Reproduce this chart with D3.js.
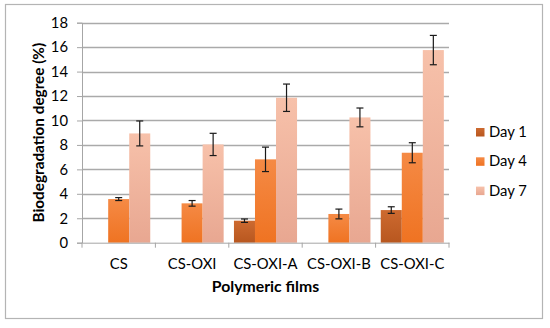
<!DOCTYPE html>
<html>
<head>
<meta charset="utf-8">
<script src="https://cdn.jsdelivr.net/npm/d3@7"></script>
<style>
  body { margin: 0; background: #fff; }
  svg { display: block; font-family: Lato, "Open Sans", sans-serif; }
</style>
</head>
<body>
<div id="chart"></div>
<script>
const films = ["CS", "CS-OXI", "CS-OXI-A", "CS-OXI-B", "CS-OXI-C"];
const days = ["Day 1", "Day 4", "Day 7"];
// null = no bar for that film/day
const day1 = [null, null, 1.8, null, 2.67];
const day4 = [3.57, 3.22, 6.82, 2.35, 7.36];
const day7 = [8.94, 8.04, 11.86, 10.25, 15.76];
const err1 = [null, null, 0.14, null, 0.27];
const err4 = [0.12, 0.23, 1.0, 0.4, 0.82];
const err7 = [1.02, 0.91, 1.12, 0.77, 1.2];
const yTicks = [0, 2, 4, 6, 8, 10, 12, 14, 16, 18];

const width = 550, height = 328;
const margin = { left: 82, right: 101, top: 22.7, bottom: 85.3 };

const svg = d3.select("#chart").append("svg")
    .attr("width", width)
    .attr("height", height);

const colors = [
    ["#cd6a30", "#b8571f"],
    ["#f58a45", "#ef7322"],
    ["#f7c1aa", "#e8a791"]
];
const defs = svg.append("defs");
colors.forEach((c, i) => {
    const g = defs.append("linearGradient")
        .attr("id", "grad" + i)
        .attr("x1", 0).attr("y1", 0).attr("x2", 0).attr("y2", 1);
    g.append("stop").attr("offset", "0%").attr("stop-color", c[0]);
    g.append("stop").attr("offset", "100%").attr("stop-color", c[1]);
});

// outer frame
svg.append("rect")
    .attr("x", 5.5).attr("y", 4.5)
    .attr("width", 537).attr("height", 314)
    .attr("fill", "#fff")
    .attr("stroke", "#b4b4b4")
    .attr("stroke-width", 1.2);

const x = d3.scaleBand()
    .domain(films)
    .range([margin.left, width - margin.right])
    .paddingInner(0)
    .paddingOuter(0);

const x1 = d3.scaleBand()
    .domain(days)
    .range([0, x.bandwidth()])
    .paddingInner(0)
    .paddingOuter(0.245);

const y = d3.scaleLinear()
    .domain([0, 18])
    .range([height - margin.bottom, margin.top]);

// grid
svg.append("g")
    .selectAll("line")
    .data(yTicks.slice(1))
    .join("line")
    .attr("x1", margin.left)
    .attr("x2", width - margin.right)
    .attr("y1", d => Math.round(y(d)) + 0.5)
    .attr("y2", d => Math.round(y(d)) + 0.5)
    .attr("stroke", "#aaaaaa")
    .attr("stroke-width", 1.3);

// y axis
const yAxis = svg.append("g")
    .attr("transform", `translate(${margin.left},0)`)
    .call(d3.axisLeft(y).tickValues(yTicks).tickSize(5).tickPadding(9));
yAxis.select(".domain").attr("stroke", "#a6a6a6");
yAxis.selectAll(".tick line").attr("stroke", "#a6a6a6");
yAxis.selectAll("text")
    .attr("font-size", 14.8)
    .attr("font-family", "Lato, sans-serif")
    .attr("fill", "#000");

// bars
const rows = [day1, day4, day7];
const errs = [err1, err4, err7];
const barData = [];
films.forEach((f, i) => {
    days.forEach((d, j) => {
        if (rows[j][i] != null) {
            barData.push({ film: f, day: d, k: j, value: rows[j][i], err: errs[j][i] });
        }
    });
});

svg.append("g")
    .selectAll("rect")
    .data(barData)
    .join("rect")
    .attr("x", d => x(d.film) + x1(d.day))
    .attr("y", d => y(d.value))
    .attr("width", x1.bandwidth())
    .attr("height", d => y(0) - y(d.value))
    .attr("fill", d => `url(#grad${d.k})`);

// error bars
const eb = svg.append("g")
    .attr("stroke", "#1a1a1a")
    .attr("stroke-width", 1.2);
barData.forEach(d => {
    const cx = x(d.film) + x1(d.day) + x1.bandwidth() / 2;
    const top = y(d.value + d.err), bot = y(d.value - d.err);
    eb.append("line").attr("x1", cx).attr("x2", cx).attr("y1", top).attr("y2", bot);
    eb.append("line").attr("x1", cx - 3.5).attr("x2", cx + 3.5).attr("y1", top).attr("y2", top);
    eb.append("line").attr("x1", cx - 3.5).attr("x2", cx + 3.5).attr("y1", bot).attr("y2", bot);
});

// x axis
const xAxis = svg.append("g")
    .attr("transform", `translate(0,${y(0)})`)
    .call(d3.axisBottom(x).tickSize(0).tickPadding(16));
xAxis.select(".domain").attr("stroke", "#a6a6a6");
xAxis.selectAll("text")
    .attr("font-size", 14.8)
    .attr("font-family", "Lato, sans-serif")
    .attr("fill", "#000");
// category separators
svg.append("g")
    .selectAll("line")
    .data(films.concat([null]))
    .join("line")
    .attr("x1", (d, i) => margin.left + i * x.step())
    .attr("x2", (d, i) => margin.left + i * x.step())
    .attr("y1", y(0))
    .attr("y2", y(0) + 5)
    .attr("stroke", "#a6a6a6");

// titles
svg.append("text")
    .attr("x", (margin.left + width - margin.right) / 2)
    .attr("y", 292)
    .attr("text-anchor", "middle")
    .attr("font-size", 15.8)
    .attr("font-weight", "bold")
    .text("Polymeric films");

svg.append("text")
    .attr("transform", `translate(43.5,${(y(0) + y(18)) / 2}) rotate(-90)`)
    .attr("text-anchor", "middle")
    .attr("font-size", 15.3)
    .attr("font-weight", "bold")
    .text("Biodegradation degree (%)");

// legend
const legend = svg.append("g")
    .attr("transform", "translate(476,128)");
days.forEach((d, i) => {
    const g = legend.append("g").attr("transform", `translate(0,${i * 29.3})`);
    g.append("rect")
        .attr("width", 8.5).attr("height", 8.5)
        .attr("fill", `url(#grad${i})`);
    g.append("text")
        .attr("x", 13)
        .attr("y", 9)
        .attr("font-size", 14.8)
        .text(d);
});
</script>
</body>
</html>
